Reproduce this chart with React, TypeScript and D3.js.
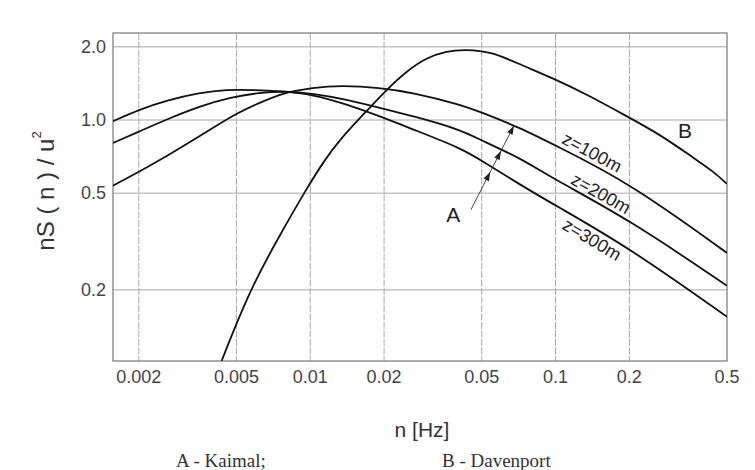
import React from "react";
import * as d3 from "d3";

// ---- data ----
const xTicks = [0.002, 0.005, 0.01, 0.02, 0.05, 0.1, 0.2, 0.5];
const xTickLabels = ["0.002", "0.005", "0.01", "0.02", "0.05", "0.1", "0.2", "0.5"];
const yTicks = [0.2, 0.5, 1.0, 2.0];
const yTickLabels = ["0.2", "0.5", "1.0", "2.0"];

// Kaimal spectra A (n [Hz], nS/u^2)
const kaimal100: [number, number][] = [
  [0.00157, 0.537], [0.00202, 0.615], [0.00259, 0.709], [0.00355, 0.858],
  [0.00493, 1.06], [0.00623, 1.178], [0.00775, 1.295], [0.0103, 1.357],
  [0.0132, 1.387], [0.0192, 1.36], [0.0263, 1.295], [0.0408, 1.159],
  [0.05, 1.074], [0.0716, 0.929], [0.1, 0.785], [0.2, 0.552], [0.5, 0.284],
];
const kaimal200: [number, number][] = [
  [0.00157, 0.805], [0.00202, 0.899], [0.00259, 1.005], [0.00355, 1.14],
  [0.00475, 1.242], [0.00623, 1.295], [0.00775, 1.315], [0.0103, 1.286],
  [0.01406, 1.215], [0.0192, 1.123], [0.0263, 1.037], [0.0408, 0.914],
  [0.05, 0.823], [0.0716, 0.699], [0.1, 0.566], [0.2, 0.389], [0.5, 0.208],
];
const kaimal300: [number, number][] = [
  [0.00157, 0.989], [0.00202, 1.105], [0.00259, 1.203], [0.00355, 1.295],
  [0.00456, 1.335], [0.00585, 1.33], [0.00752, 1.315], [0.0103, 1.274],
  [0.01406, 1.159], [0.0192, 1.037], [0.0263, 0.914], [0.0408, 0.768],
  [0.05, 0.681], [0.0716, 0.542], [0.1, 0.445], [0.2, 0.298], [0.5, 0.155],
];
// Davenport spectrum B
const davenport: [number, number][] = [
  [0.00435, 0.102], [0.00567, 0.2], [0.0075, 0.335], [0.00966, 0.522],
  [0.01147, 0.687], [0.0132, 0.831], [0.0172, 1.105], [0.0205, 1.335],
  [0.0247, 1.589], [0.0298, 1.805], [0.036, 1.922], [0.0427, 1.95],
  [0.0549, 1.91], [0.0716, 1.694], [0.1, 1.469], [0.134, 1.274],
  [0.195, 1.037], [0.267, 0.871], [0.364, 0.70], [0.439, 0.615], [0.5, 0.546],
];

// curve labels: [text, n, value, angle]
const curveLabels: [string, number, number, number][] = [
  ["z=100m", 0.1408, 0.735, 28],
  ["z=200m", 0.153, 0.498, 29],
  ["z=300m", 0.1408, 0.322, 31],
];
const seriesLetters: [string, number, number][] = [
  ["A", 0.0383, 0.408],
  ["B", 0.337, 0.905],
];
// arrow from label A towards the curves (data coords), arrowheads at fractions
const arrowFrom: [number, number] = [0.0452, 0.428];
const arrowTo: [number, number] = [0.0677, 0.949];
const arrowHeads = [0.45, 0.70, 1.0];

const W = 755;
const H = 470;
const L = 113, R = 727, T = 33, B = 361;

export default function App() {
  const x = d3.scaleLog().domain([0.00157, 0.5]).range([L, R]);
  const y = d3.scaleLog().domain([0.102, 2.28]).range([B, T]);
  const line = d3
    .line<[number, number]>()
    .x((d) => x(d[0]))
    .y((d) => y(d[1]))
    .curve(d3.curveBasis);

  const ax0 = x(arrowFrom[0]), ay0 = y(arrowFrom[1]);
  const ax1 = x(arrowTo[0]), ay1 = y(arrowTo[1]);
  const ang = Math.atan2(ay1 - ay0, ax1 - ax0);
  const headLen = 9, headW = 3;

  const sans = "'Liberation Sans', Arial, Helvetica, sans-serif";
  const serif = "'Liberation Serif', 'Times New Roman', serif";

  return (
    <svg
      width={W}
      height={H}
      style={{ position: "absolute", left: 0, top: 0, background: "#fff" }}
    >
      <defs>
        <clipPath id="plot">
          <rect x={L} y={T} width={R - L} height={B - T} />
        </clipPath>
      </defs>
      <rect x={0} y={0} width={W} height={H} fill="#fff" />
      {/* grid */}
      {xTicks.slice(0, -1).map((t) => (
        <line
          key={"gx" + t}
          x1={x(t)}
          x2={x(t)}
          y1={T}
          y2={B}
          stroke="#a8a8a8"
          strokeWidth={1}
          strokeDasharray="7,1.5"
        />
      ))}
      {yTicks.map((t) => (
        <line
          key={"gy" + t}
          x1={L}
          x2={R}
          y1={y(t)}
          y2={y(t)}
          stroke="#a8a8a8"
          strokeWidth={1}
        />
      ))}
      {/* frame */}
      <rect x={L} y={T} width={R - L} height={B - T} fill="none" stroke="#777" strokeWidth={1.2} />

      {/* curves */}
      <g clipPath="url(#plot)" fill="none" stroke="#111" strokeWidth={1.8}>
        <path d={line(kaimal100) || ""} />
        <path d={line(kaimal200) || ""} />
        <path d={line(kaimal300) || ""} />
        <path d={line(davenport) || ""} />
      </g>

      {/* arrow */}
      <line x1={ax0} y1={ay0} x2={ax1} y2={ay1} stroke="#333" strokeWidth={0.9} />
      {arrowHeads.map((f, i) => {
        const px = ax0 + (ax1 - ax0) * f;
        const py = ay0 + (ay1 - ay0) * f;
        const bx = px - headLen * Math.cos(ang);
        const by = py - headLen * Math.sin(ang);
        const nx = -Math.sin(ang) * headW;
        const ny = Math.cos(ang) * headW;
        return (
          <polygon
            key={"ah" + i}
            points={`${px},${py} ${bx + nx},${by + ny} ${bx - nx},${by - ny}`}
            fill="#222"
          />
        );
      })}

      {/* curve labels */}
      {curveLabels.map(([txt, n, v, a]) => (
        <text
          key={txt}
          transform={`translate(${x(n)},${y(v)}) rotate(${a})`}
          textAnchor="middle"
          dominantBaseline="central"
          fontFamily={sans}
          fontSize={18}
          fill="#222"
        >
          {txt}
        </text>
      ))}
      {seriesLetters.map(([txt, n, v]) => (
        <text
          key={txt}
          x={x(n)}
          y={y(v)}
          textAnchor="middle"
          dominantBaseline="central"
          fontFamily={sans}
          fontSize={21}
          fill="#222"
        >
          {txt}
        </text>
      ))}

      {/* x tick labels */}
      {xTicks.map((t, i) => (
        <text
          key={"xt" + t}
          x={x(t)}
          y={B + 22}
          textAnchor="middle"
          fontFamily={sans}
          fontSize={18}
          fill="#444"
        >
          {xTickLabels[i]}
        </text>
      ))}
      {/* y tick labels */}
      {yTicks.map((t, i) => (
        <text
          key={"yt" + t}
          x={L - 7}
          y={y(t)}
          textAnchor="end"
          dominantBaseline="central"
          fontFamily={sans}
          fontSize={18}
          fill="#444"
        >
          {yTickLabels[i]}
        </text>
      ))}

      {/* axis titles */}
      <text
        x={422}
        y={437}
        textAnchor="middle"
        fontFamily={sans}
        fontSize={21}
        fill="#333"
      >
        n [Hz]
      </text>
      <text
        transform="translate(45,191) rotate(-90)"
        textAnchor="middle"
        dominantBaseline="central"
        fontFamily={sans}
        fontSize={24}
        fill="#333"
      >
        nS ( n ) / u<tspan fontSize={13} dy={-9}>2</tspan>
      </text>

      {/* caption */}
      <text x={176} y={467} fontFamily={serif} fontSize={19} fill="#333">
        A - Kaimal;
      </text>
      <text x={442} y={467} fontFamily={serif} fontSize={19} fill="#333">
        B - Davenport
      </text>
    </svg>
  );
}
